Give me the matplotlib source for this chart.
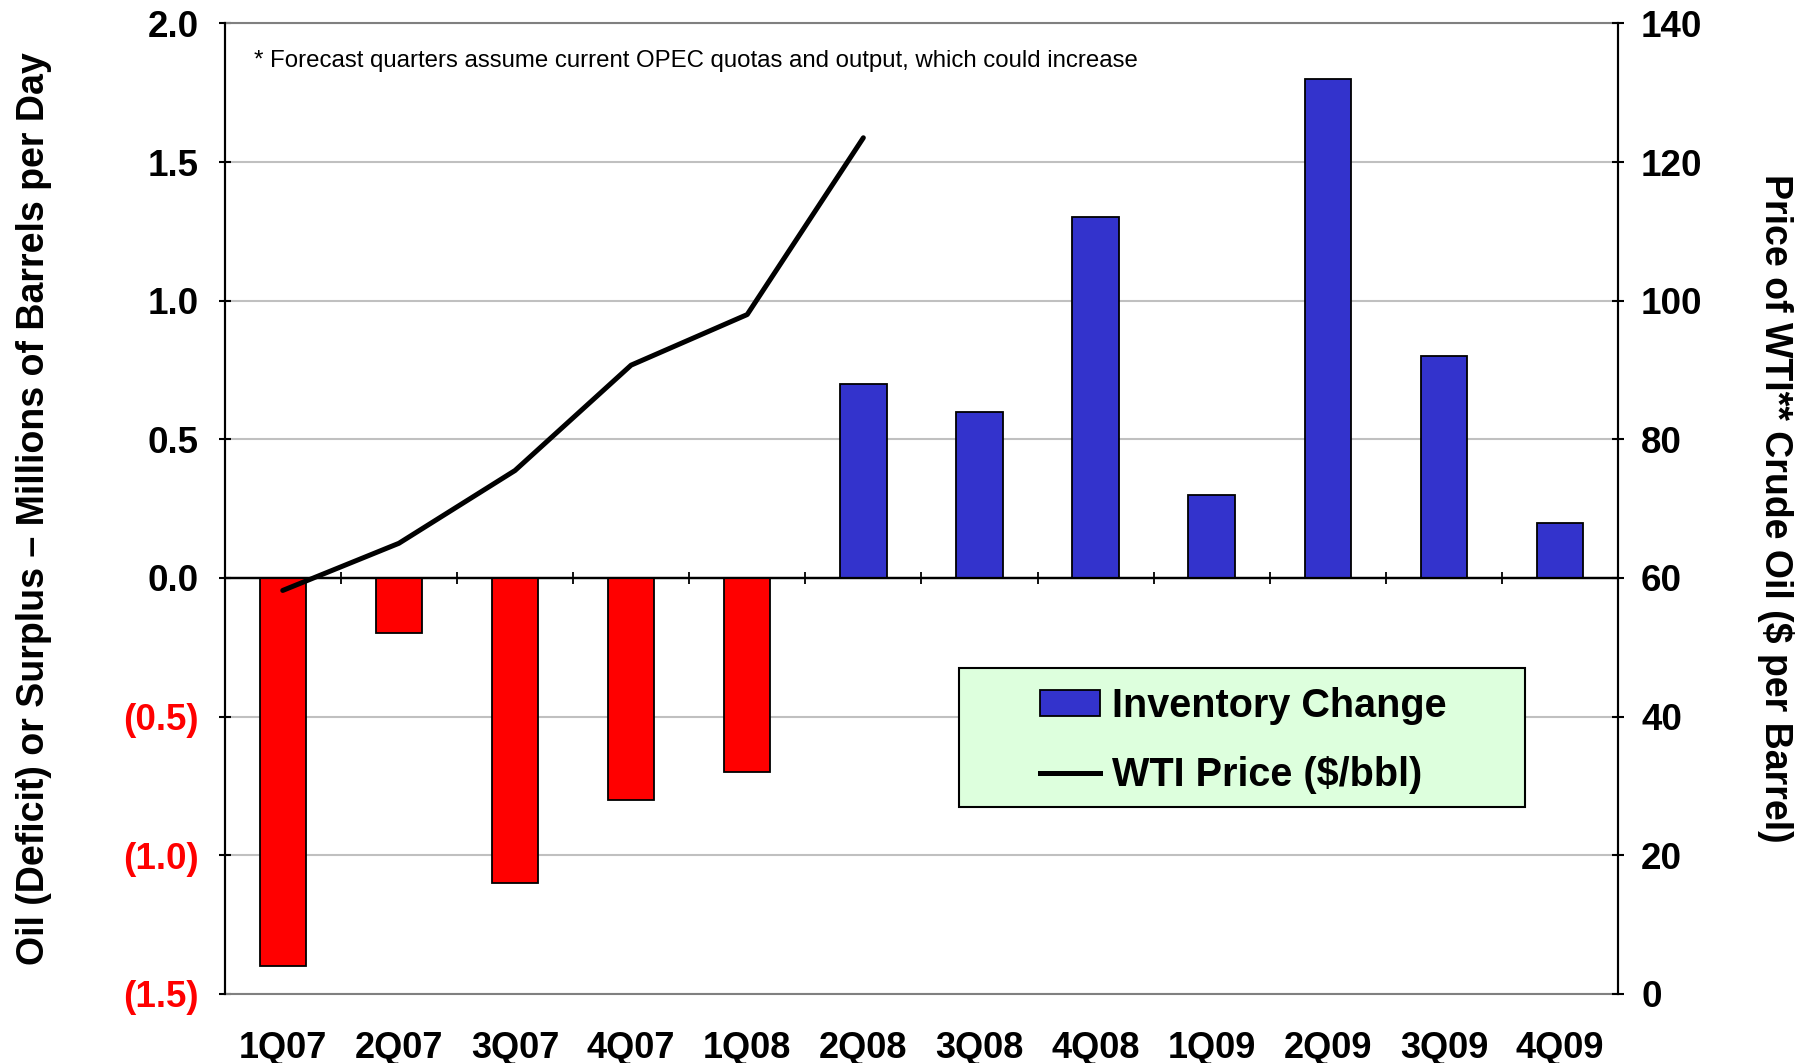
import matplotlib
matplotlib.use("Agg")
import matplotlib.pyplot as plt
from matplotlib.patches import Rectangle, Patch
from matplotlib.lines import Line2D
import numpy as np

plt.rcParams['font.family'] = ['Liberation Sans', 'DejaVu Sans']

quarters = ["1Q07", "2Q07", "3Q07", "4Q07", "1Q08", "2Q08",
            "3Q08", "4Q08", "1Q09", "2Q09", "3Q09", "4Q09"]
inventory_change = [-1.4, -0.2, -1.1, -0.8, -0.7, 0.7, 0.6, 1.3, 0.3, 1.8, 0.8, 0.2]
wti_quarters = ["1Q07", "2Q07", "3Q07", "4Q07", "1Q08", "2Q08"]
wti_price = [58.2, 65.0, 75.5, 90.7, 98.0, 123.5]

left_ticks = [2.0, 1.5, 1.0, 0.5, 0.0, -0.5, -1.0, -1.5]
left_ticklabels = ["2.0", "1.5", "1.0", "0.5", "0.0", "(0.5)", "(1.0)", "(1.5)"]
right_ticks = [0, 20, 40, 60, 80, 100, 120, 140]

note = "* Forecast quarters assume current OPEC quotas and output, which could increase"
left_label = "Oil (Deficit) or Surplus \u2013 Millions of Barrels per Day"
right_label = "Price of WTI** Crude Oil ($ per Barrel)"

RED = "#FF0000"
BLUE = "#3333CC"

fig = plt.figure(figsize=(18.12, 10.63), dpi=100)
ax = fig.add_axes([0.124, 0.065, 0.769, 0.913])

x = np.arange(len(quarters))
colors = [RED if v < 0 else BLUE for v in inventory_change]
ax.bar(x, inventory_change, width=0.4, color=colors, edgecolor="black", linewidth=1.3, zorder=3)

ax.set_xlim(-0.5, len(quarters) - 0.5)
ax.set_ylim(-1.5, 2.0)
ax.set_yticks(left_ticks)
ax.set_yticklabels(left_ticklabels)
for lbl, v in zip(ax.get_yticklabels(), left_ticks):
    lbl.set_color(RED if v < 0 else "black")
    lbl.set_fontweight("bold")
    lbl.set_fontsize(26.5)
ax.tick_params(axis="y", direction="inout", length=9, width=1.5, pad=14)
ax.grid(axis="y", color="#C0C0C0", linewidth=1.5, zorder=0)
ax.set_axisbelow(True)

ax.set_xticks(x)
ax.set_xticklabels(quarters, fontsize=26, fontweight="bold")
ax.tick_params(axis="x", length=0, pad=27)

for s in ["top", "bottom"]:
    ax.spines[s].set_color("#808080")
    ax.spines[s].set_linewidth(1.5)
ax.spines["left"].set_linewidth(1.5)
ax.spines["right"].set_linewidth(1.5)

ax.axhline(0, color="black", linewidth=1.6, zorder=4)
zero_frac = (0 - ax.get_ylim()[0]) / (ax.get_ylim()[1] - ax.get_ylim()[0])
sec = ax.secondary_xaxis(zero_frac)
sec.set_xticks(x[:-1] + 0.5)
sec.set_xticklabels([])
sec.tick_params(direction="inout", length=9, width=1.3)
sec.spines["bottom"].set_linewidth(1.6)

ax.set_ylabel(left_label, fontsize=27, fontweight="bold")
ax.yaxis.set_label_coords(-0.124, 0.5)

ax2 = ax.twinx()
ax2.set_ylim(0, 140)
ax2.set_yticks(right_ticks)
ax2.set_yticklabels([str(t) for t in right_ticks], fontsize=26.5, fontweight="bold")
ax2.tick_params(axis="y", direction="inout", length=9, width=1.5, pad=12)
for s in ["top", "bottom"]:
    ax2.spines[s].set_visible(False)
ax2.spines["right"].set_linewidth(1.5)
ax2.spines["left"].set_linewidth(1.5)
wx = [quarters.index(q) for q in wti_quarters]
ax2.plot(wx, wti_price, color="black", linewidth=3.6, solid_capstyle="round", zorder=5)
ax2.set_ylabel(right_label, fontsize=27, fontweight="bold", rotation=270, va="bottom")
ax2.yaxis.set_label_coords(1.1, 0.5)

ax.text(0.021, 0.961, note, transform=ax.transAxes, fontsize=17.3, ha="left", va="center")

# legend box
box = Rectangle((0.527, 0.193), 0.406, 0.143, transform=ax2.transAxes,
                facecolor="#DDFFDD", edgecolor="black", linewidth=1.5, zorder=6)
ax2.add_patch(box)
handles = [Patch(facecolor=BLUE, edgecolor="black", linewidth=1.3),
           Line2D([0], [0], color="black", linewidth=3.6)]
leg = ax2.legend(handles, ["Inventory Change", "WTI Price ($/bbl)"], loc="center",
                 bbox_to_anchor=(0.527 + 0.204, 0.193 + 0.068), frameon=False,
                 prop={"size": 28.5, "weight": "bold"}, handlelength=1.5, handleheight=0.65,
                 handletextpad=0.3, labelspacing=0.8, borderpad=0.2)
leg.set_zorder(7)

fig.savefig("out.png", dpi=100)
